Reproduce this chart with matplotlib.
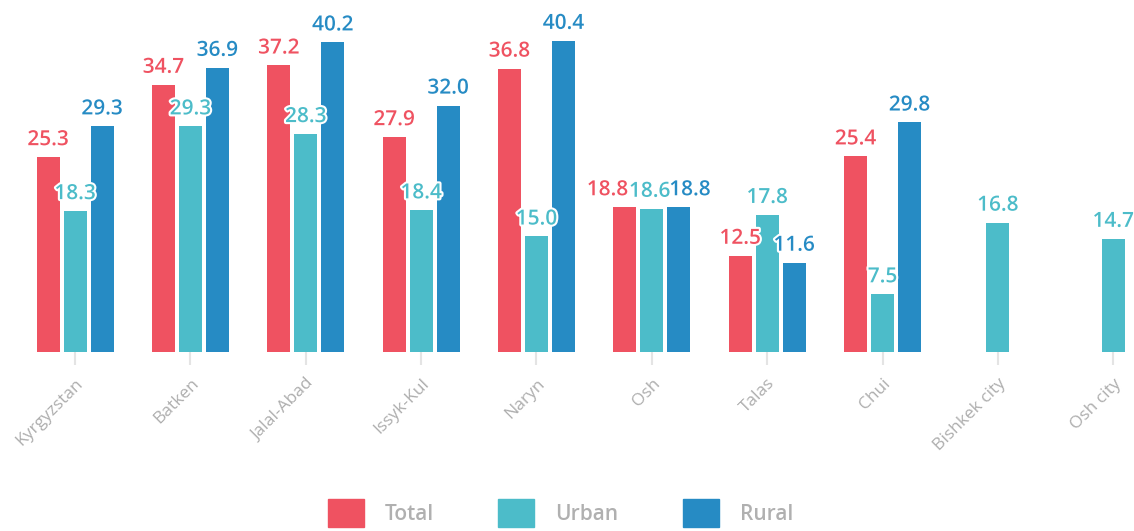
import matplotlib.pyplot as plt
import matplotlib.patheffects as pe
from matplotlib.patches import Patch
import numpy as np

plt.rcParams['font.family'] = ['Open Sans', 'DejaVu Sans']

# Data for the chart
regions = ['Kyrgyzstan', 'Batken', 'Jalal-Abad', 'Issyk-Kul', 'Naryn',
           'Osh', 'Talas', 'Chui', 'Bishkek city', 'Osh city']
total = [25.3, 34.7, 37.2, 27.9, 36.8, 18.8, 12.5, 25.4, np.nan, np.nan]
urban = [18.3, 29.3, 28.3, 18.4, 15.0, 18.6, 17.8, 7.5, 16.8, 14.7]
rural = [29.3, 36.9, 40.2, 32.0, 40.4, 18.8, 11.6, 29.8, np.nan, np.nan]
series_names = ['Total', 'Urban', 'Rural']
colors = ['#EF5261', '#4CBCC9', '#268BC4']

fig = plt.figure(figsize=(11.34, 5.31), dpi=100)
ax = fig.add_axes([17.4 / 1134, 179 / 531, 1 - 17.4 / 1134, 352 / 531])

x = np.arange(len(regions))
bar_w = 0.2
step = 0.234
all_vals = np.array([total, urban, rural])
for i, (vals, col) in enumerate(zip(all_vals, colors)):
    pos = x + (i - 1) * step
    ax.bar(pos, vals, width=bar_w, color=col)
    for j, (xp, v) in enumerate(zip(pos, vals)):
        if np.isnan(v):
            continue
        # spread labels sideways when the three bars are about the same height
        dx = 0
        grp = all_vals[:, j]
        if not np.isnan(grp).any() and np.ptp(grp) < 1:
            dx = [-12.5, -1.5, 8][i]
        ax.annotate(f'{v:.1f}', (xp, v), xytext=(dx, 5), textcoords='offset points',
                    ha='center', va='bottom', color=col, fontsize=15,
                    fontweight='semibold',
                    path_effects=[pe.withStroke(linewidth=3, foreground='white')])

ax.set_xlim(-0.5, 9.18)
ax.set_ylim(0, 45.7)
for s in ax.spines.values():
    s.set_visible(False)
ax.set_yticks([])
ax.set_xticks(x)
ax.set_xticklabels(regions, rotation=45, ha='right', rotation_mode='anchor',
                   color='#AEAEAE', fontsize=12.5)
ax.tick_params(axis='x', length=9, width=1.5, color='#E4E4E4', pad=8)

handles = [Patch(color=c) for c in colors]
fig.legend(handles, series_names, loc='center', ncol=3, frameon=False,
           bbox_to_anchor=(0.494, 0.034), labelcolor='#B0B0B0',
           handlelength=1.73, handleheight=1.7, handletextpad=1.0,
           columnspacing=3.1, prop={'weight': 'semibold', 'size': 15})

fig.savefig('out.png', dpi=100)
